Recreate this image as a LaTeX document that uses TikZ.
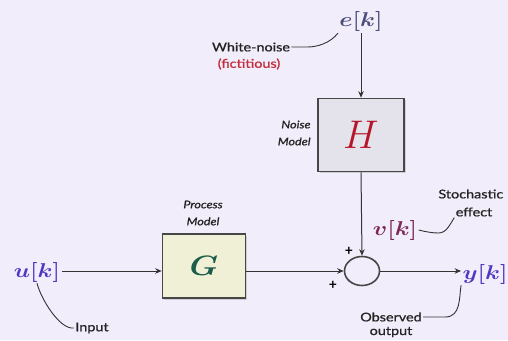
\RequirePackage{fix-cm}
\documentclass[tikz,border=0pt]{standalone}
\usepackage{bm}
\usepackage{fontspec}
\setmainfont{Lato}
\newfontfamily\labfont[FakeBold=0.8]{Lato}
\usepackage{xcolor}
\usetikzlibrary{arrows.meta,positioning,calc,shadows,shapes.geometric}
\definecolor{bgcol}{RGB}{241,237,250}
\definecolor{ecol}{RGB}{75,78,122}
\definecolor{ucol}{RGB}{82,55,195}
\definecolor{vcol}{RGB}{125,40,88}
\definecolor{hcol}{RGB}{182,22,42}
\definecolor{gcol}{RGB}{28,92,72}
\definecolor{hfill}{RGB}{228,227,235}
\definecolor{gfill}{RGB}{240,240,214}
\definecolor{labcol}{RGB}{35,35,35}
\definecolor{redlab}{RGB}{195,45,60}

\begin{document}
\begin{tikzpicture}[x=1pt,y=-1pt,>={Stealth[length=6.5pt,width=5.5pt]}]
  \tikzstyle{block}=[draw=black!72,line width=1.6pt,drop shadow={opacity=0.3,shadow xshift=1.5pt,shadow yshift=-1.5pt}]
  \tikzstyle{sig}=[inner sep=1pt,xscale=1.2,font=\fontsize{20}{24}\selectfont]
  \tikzstyle{lab}=[inner sep=1pt,xscale=1.2,text=labcol,align=center,font=\labfont\fontsize{12}{16}\selectfont]
  \tikzstyle{model}=[inner sep=1pt,xscale=1.2,text=labcol,align=right,font=\labfont\fontsize{10.5}{17}\selectfont\itshape]
  \tikzstyle{wire}=[line width=1pt,draw=black!80]
  \tikzstyle{note}=[draw=black!80,line width=0.9pt]
  \useasboundingbox[fill=bgcol] (0,0) rectangle (508,340);
  % signals
  \node[sig,text=ecol] (e) at (361,22) {$\bm{e[k]}$};
  \node[sig,text=ucol] (u) at (37,272) {$\bm{u[k]}$};
  \node[sig,text=ucol] (y) at (485,274) {$\bm{y[k]}$};
  \node[sig,text=vcol] (v) at (395,230) {$\bm{v[k]}$};
  % blocks
  \node[block,fill=hfill,minimum width=86pt,minimum height=73pt,text=hcol,
    font=\fontsize{40}{44}\selectfont] (H) at (361,135) {$H$};
  \node[block,fill=gfill,minimum width=83pt,minimum height=64pt,text=gcol,
    font=\fontsize{28}{32}\selectfont] (G) at (204,266) {\scalebox{1.15}[1]{$\bm{G}$}};
  \node[draw=black!72,line width=1.6pt,fill=bgcol,ellipse,minimum width=35pt,minimum height=29pt,
    inner sep=0pt] (sum) at (362,271) {};
  % labels
  \node[model,anchor=east] (nm) at (312,133) {Noise\\Model};
  \node[model,align=center] (pm) at (203,213) {Process\\Model};
  \node[lab] (wn) at (251,47) {White-noise};
  \node[lab,text=redlab] (fict) at (249,64) {(fictitious)};
  \node[lab,anchor=west] (stoch) at (437,194) {Stochastic};
  \node[lab] (eff) at (474,212) {effect};
  \node[lab] (inp) at (92,328) {Input};
  \node[lab] (obs) at (391,317) {Observed};
  \node[lab] (outp) at (391,332) {output};
  % plus signs
  \node[inner sep=0pt,font=\bfseries\fontsize{14}{14}\selectfont] (p1) at (349,251) {+};
  \node[inner sep=0pt,font=\bfseries\fontsize{14}{14}\selectfont] (p2) at (333,285) {+};
  % connectors
  \draw[wire,->] (e.south) -- (H.north);
  \draw[wire,->] (H.south) -- (sum.north);
  \draw[wire,->] (u.east |- sum.west) -- (G.west |- sum.west);
  \draw[wire,->] (G.east |- sum.west) -- (sum.west);
  \draw[wire,->] (sum.east) -- (y.west |- sum.east);
  % annotation curves
  \draw[note] (wn.east) -- ++(16,0) .. controls +(10,0) and +(-8,10) .. (e.south west);
  \draw[note] (u.south) .. controls +(4,16) and +(-14,2) .. (inp.west);
  \draw[note] (obs.east) -- ++(22,0) .. controls +(16,0) and +(-2,12) .. (y.south west);
  \draw[note] (v.east) .. controls +(8,2) and +(-6,0) .. ++(20,3) .. controls +(8,0) and +(-4,6) .. (eff.south west);
\end{tikzpicture}
\end{document}
